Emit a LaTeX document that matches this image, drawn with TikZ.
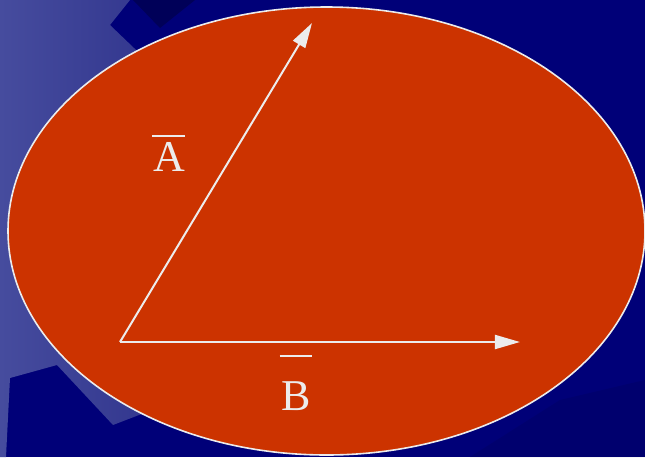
\documentclass[tikz,border=0pt]{standalone}
\usepackage{fontspec}
\setmainfont{Liberation Serif}
\usetikzlibrary{arrows.meta}
\definecolor{navy}{RGB}{0, 0, 120}
\definecolor{navyDark}{RGB}{0, 0, 88}
\definecolor{slateL}{RGB}{70, 76, 158}
\definecolor{slateR}{RGB}{40, 43, 134}
\definecolor{brick}{RGB}{204, 51, 0}
\definecolor{chalk}{RGB}{236, 236, 236}
\newcommand{\barred}[2][-7pt]{\vbox{\hbox to 16.5pt{\leaders\hrule height 1pt\hfill}\vskip #1\hbox to 16.5pt{\hss#2\hss}}}

\begin{document}
\begin{tikzpicture}[
  x=0.5pt, y=-0.5pt,
  vec/.style={draw=chalk, line width=1pt, -{Triangle[length=12.5pt, width=7pt]}},
  veclabel/.style={text=chalk, anchor=base, inner sep=0pt, font=\fontsize{22}{24}\selectfont}
]
  % background
  \useasboundingbox (0,0) rectangle (645,457);
  \fill[navy] (0,0) rectangle (645,457);
  \shade[left color=slateL, right color=slateR]
    (0,0) -- (130,0) -- (110,25) -- (230,140) -- (230,380) -- (113,425)
    -- (57,365) -- (10,378) -- (6,457) -- (0,457) -- cycle;
  \fill[navyDark] (133,0) -- (160,28) -- (195,0) -- cycle;
  \fill[navyDark, opacity=0.3] (470,457) -- (560,400) -- (645,380) -- (645,457) -- cycle;

  % ellipse
  \filldraw[fill=brick, draw=chalk, line width=0.8pt] (326.5,231) ellipse [x radius=318.5, y radius=224];

  % vectors
  \coordinate (O) at (120,342);
  \coordinate (Atip) at (312,23);
  \coordinate (Btip) at (520,342);
  \draw[vec] (O) -- (Atip);
  \draw[vec] (O) -- (Btip);

  % labels
  \node[veclabel] (labA) at (169,171) {\barred{A}};
  \node[veclabel] (labB) at (296,410) {\barred[2.5pt]{B}};
\end{tikzpicture}
\end{document}
